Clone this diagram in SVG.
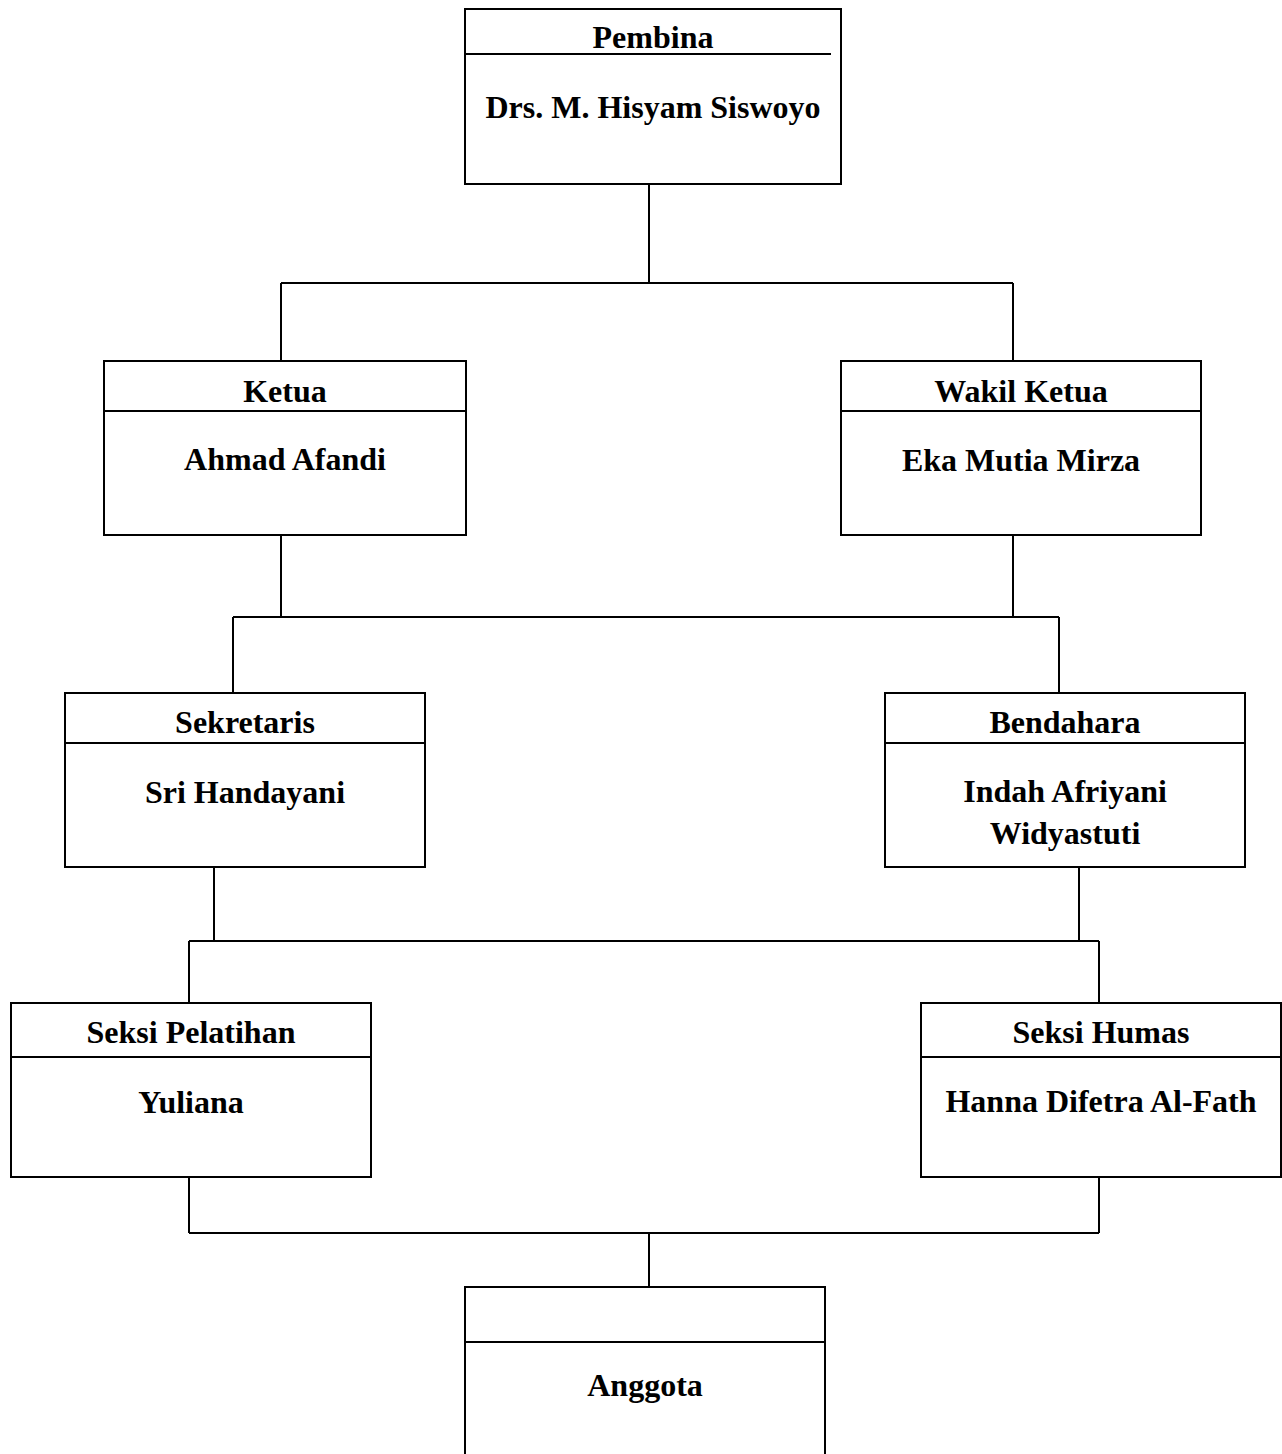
<svg xmlns="http://www.w3.org/2000/svg" width="1282" height="1454" viewBox="0 0 1282 1454">
<style>
.box{fill:#fff;stroke:#000;stroke-width:2}
.div{stroke:#000;stroke-width:2}
.con{fill:none;stroke:#000;stroke-width:2}
text{font-family:"Liberation Serif","Times New Roman",serif;font-weight:bold;font-size:32px;fill:#000;text-anchor:middle}
</style>
<rect width="1282" height="1454" fill="#fff"/>
<g id="connectors">
<path class="con" d="M649,184 V283 M281,283 H1013 M281,283 V361 M1013,283 V361"/>
<path class="con" d="M281,535 V617 M1013,535 V617 M233,617 H1059 M233,617 V693 M1059,617 V693"/>
<path class="con" d="M214,867 V941 M1079,867 V941 M189,941 H1099 M189,941 V1003 M1099,941 V1003"/>
<path class="con" d="M189,1177 V1233 M1099,1177 V1233 M189,1233 H1099 M649,1233 V1287"/>
</g>
<g id="pembina">
<rect class="box" x="465" y="9" width="376" height="175"/>
<line class="div" x1="465" y1="54" x2="831" y2="54"/>
<text x="653" y="48">Pembina</text>
<text x="653" y="118">Drs. M. Hisyam Siswoyo</text>
</g>
<g id="ketua">
<rect class="box" x="104" y="361" width="362" height="174"/>
<line class="div" x1="104" y1="411" x2="466" y2="411"/>
<text x="285" y="402">Ketua</text>
<text x="285" y="470">Ahmad Afandi</text>
</g>
<g id="wakil-ketua">
<rect class="box" x="841" y="361" width="360" height="174"/>
<line class="div" x1="841" y1="411" x2="1201" y2="411"/>
<text x="1021" y="402">Wakil Ketua</text>
<text x="1021" y="471">Eka Mutia Mirza</text>
</g>
<g id="sekretaris">
<rect class="box" x="65" y="693" width="360" height="174"/>
<line class="div" x1="65" y1="743" x2="425" y2="743"/>
<text x="245" y="733">Sekretaris</text>
<text x="245" y="803">Sri Handayani</text>
</g>
<g id="bendahara">
<rect class="box" x="885" y="693" width="360" height="174"/>
<line class="div" x1="885" y1="743" x2="1245" y2="743"/>
<text x="1065" y="733">Bendahara</text>
<text x="1065" y="802">Indah Afriyani</text>
<text x="1065" y="844">Widyastuti</text>
</g>
<g id="seksi-pelatihan">
<rect class="box" x="11" y="1003" width="360" height="174"/>
<line class="div" x1="11" y1="1057" x2="371" y2="1057"/>
<text x="191" y="1043">Seksi Pelatihan</text>
<text x="191" y="1113">Yuliana</text>
</g>
<g id="seksi-humas">
<rect class="box" x="921" y="1003" width="360" height="174"/>
<line class="div" x1="921" y1="1057" x2="1281" y2="1057"/>
<text x="1101" y="1043">Seksi Humas</text>
<text x="1101" y="1112">Hanna Difetra Al-Fath</text>
</g>
<g id="anggota">
<rect class="box" x="465" y="1287" width="360" height="180"/>
<line class="div" x1="465" y1="1342" x2="825" y2="1342"/>
<text x="645" y="1396">Anggota</text>
</g>
</svg>
